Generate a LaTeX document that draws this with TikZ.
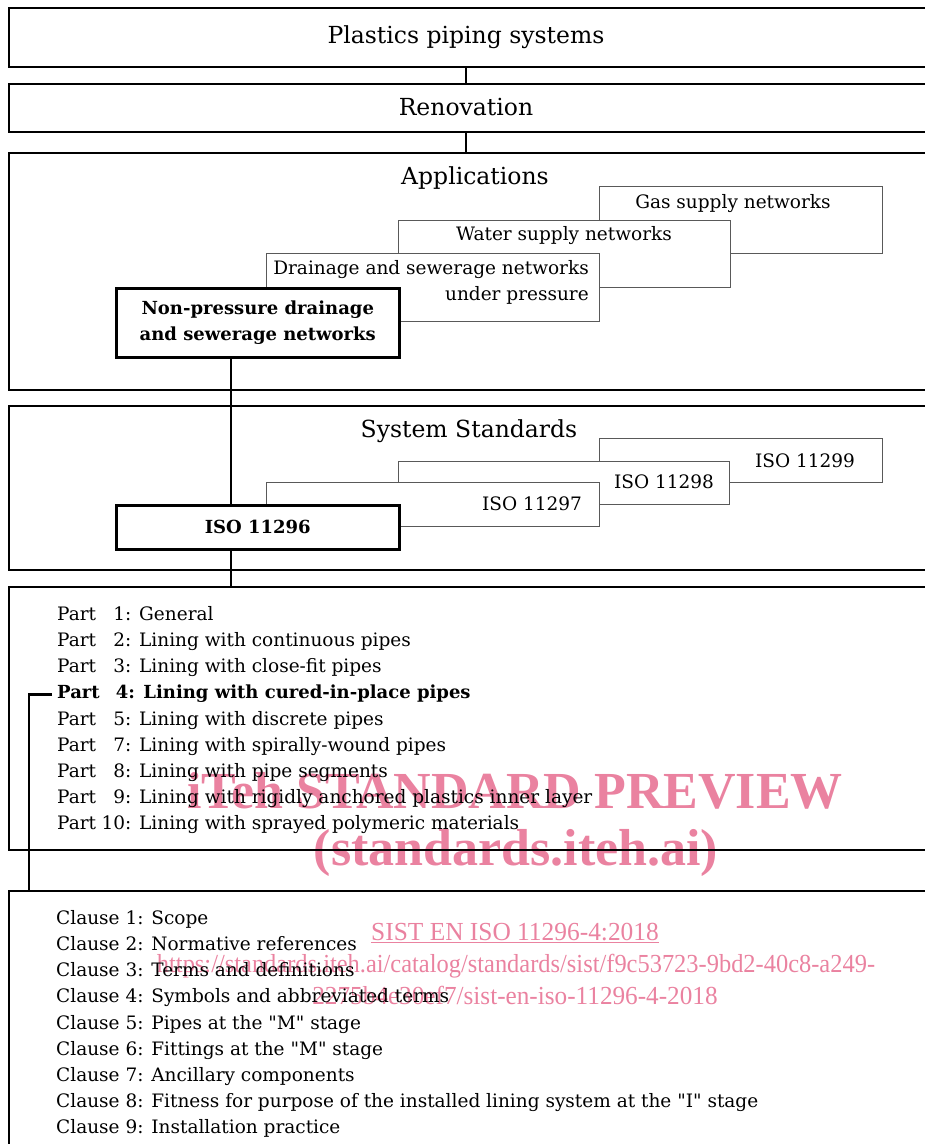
\documentclass[tikz,border=0pt]{standalone}
\usepackage{fontspec}
\usepackage{graphicx}
\usetikzlibrary{positioning}
\setmainfont{DejaVu Serif}[Ligatures=TeXOff]
\newfontfamily\wmfont{Liberation Serif}
\definecolor{wmpink}{RGB}{234,130,160}
\newcommand{\titlefont}{\fontsize{23.5}{28}\selectfont}
\newcommand{\listfont}{\fontsize{18.5}{26}\selectfont}
\newcommand{\keyfont}{\fontsize{18}{26}\selectfont\bfseries}
\newcommand{\partline}[2]{Part\ \makebox[1.25em][r]{#1}: #2}

\begin{document}
\begin{tikzpicture}[x=1pt, y=-1pt,
	bigbox/.style={draw, line width=2pt, anchor=north west, minimum width=925pt, inner sep=0},
	stackbox/.style={draw=black!65, line width=1.1pt, fill=white, anchor=north west, inner sep=0},
	keybox/.style={draw, line width=2.5pt, fill=white, anchor=north west, inner sep=0, align=center, font=\keyfont},
	title/.style={font=\titlefont, inner sep=0},
	boxtext/.style={font=\listfont, inner sep=0},
	listtext/.style={font=\listfont, anchor=west, inner sep=0, text height=14pt, text depth=5pt},
	link/.style={line width=1.2pt},
	trunk/.style={line width=2.2pt},
	watermark/.style={text=wmpink, inner sep=0}]
	\useasboundingbox (0,0) rectangle (925,1144);
	\clip (0,0) rectangle (925,1144);
	% watermark, under everything else
	\node[watermark, font=\wmfont\bfseries\fontsize{52}{60}\selectfont] (wmA) at (515,791) {iTeh STANDARD PREVIEW};
	\node[watermark, font=\wmfont\bfseries\fontsize{52}{60}\selectfont] (wmB) at (516,853) {(standards.iteh.ai)};
	\node[watermark, font=\wmfont\fontsize{26}{30}\selectfont] (wmC) at (515,933) {\scalebox{0.977}[1]{\underline{SIST EN ISO 11296-4:2018}}};
	\node[watermark, font=\wmfont\fontsize{26}{30}\selectfont] (wmD) at (516,966) {\scalebox{0.94}[1]{https://standards.iteh.ai/catalog/standards/sist/f9c53723-9bd2-40c8-a249-}};
	\node[watermark, font=\wmfont\fontsize{26}{30}\selectfont] (wmE) at (515,995) {\scalebox{0.97}[1]{2275b4e30ef7/sist-en-iso-11296-4-2018}};
	% frames
	\node[bigbox, minimum height=59pt] (pps) at (8,7) {};
	\node[bigbox, minimum height=48pt] (reno) at (8,83) {};
	\node[bigbox, minimum height=237pt] (apps) at (8,152) {};
	\node[bigbox, minimum height=164pt] (sys) at (8,405) {};
	\node[bigbox, minimum height=263pt] (parts) at (8,586) {};
	\node[bigbox, minimum height=280pt] (clauses) at (8,890) {};
	\node[title] (ppsT) at (466,37) {Plastics piping systems};
	\node[title] (renoT) at (466,107) {Renovation};
	\node[title] (appsT) at (475,178) {Applications};
	\node[title] (sysT) at (469,431) {System Standards};
	\coordinate (spine) at (466,0);
	\coordinate (trunk) at (231,0);
	\draw[link] (pps.south -| spine) -- (reno.north -| spine);
	\draw[link] (reno.south -| spine) -- (apps.north -| spine);
	% applications
	\node[stackbox, minimum width=283pt, minimum height=67pt] (gas) at (599,186) {};
	\node[boxtext] (gasT) at (733,204) {Gas supply networks};
	\node[stackbox, minimum width=332pt, minimum height=67pt] (water) at (398,220) {};
	\node[boxtext] (waterT) at (564,236) {Water supply networks};
	\node[stackbox, minimum width=332.5pt, minimum height=68pt] (drain) at (266,253) {};
	\node[boxtext, anchor=east, align=right] (drainT) at (589,282) {Drainage and sewerage networks\\under pressure};
	\node[keybox, minimum width=283pt, minimum height=69pt] (np) at (115,287) {Non-pressure drainage\\and sewerage networks};
	% system standards
	\node[stackbox, minimum width=283pt, minimum height=44pt] (iso99) at (599,438) {};
	\node[boxtext] (iso99T) at (805,461) {ISO 11299};
	\node[stackbox, minimum width=331pt, minimum height=43pt] (iso98) at (398,461) {};
	\node[boxtext] (iso98T) at (664,482) {ISO 11298};
	\node[stackbox, minimum width=332.5pt, minimum height=44pt] (iso97) at (266,482) {};
	\node[boxtext] (iso97T) at (532,504) {ISO 11297};
	\node[keybox, minimum width=283pt, minimum height=44pt] (iso96) at (115,504) {ISO 11296};
	\draw[trunk] (np.south -| trunk) -- (iso96.north -| trunk);
	\draw[trunk] (iso96.south -| trunk) -- (parts.north -| trunk);
	% parts
	\node[listtext] (p1) at (57,616) {\partline{1}{General}};
	\node[listtext, below=6.75pt of p1.south west, anchor=north west] (p2) {\partline{2}{Lining with continuous pipes}};
	\node[listtext, below=6.75pt of p2.south west, anchor=north west] (p3) {\partline{3}{Lining with close-fit pipes}};
	\node[listtext, below=6.75pt of p3.south west, anchor=north west, font=\keyfont] (p4) {\partline{4}{Lining with cured-in-place pipes}};
	\node[listtext, below=6.75pt of p4.south west, anchor=north west] (p5) {\partline{5}{Lining with discrete pipes}};
	\node[listtext, below=6.75pt of p5.south west, anchor=north west] (p7) {\partline{7}{Lining with spirally-wound pipes}};
	\node[listtext, below=6.75pt of p7.south west, anchor=north west] (p8) {\partline{8}{Lining with pipe segments}};
	\node[listtext, below=6.75pt of p8.south west, anchor=north west] (p9) {\partline{9}{Lining with rigidly anchored plastics inner layer}};
	\node[listtext, below=6.75pt of p9.south west, anchor=north west] (p10) {\partline{10}{Lining with sprayed polymeric materials}};
	% clauses of part 4
	\node[listtext] (c1) at (56,920) {Clause 1: Scope};
	\node[listtext, below=6.75pt of c1.south west, anchor=north west] (c2) {Clause 2: Normative references};
	\node[listtext, below=6.75pt of c2.south west, anchor=north west] (c3) {Clause 3: Terms and definitions};
	\node[listtext, below=6.75pt of c3.south west, anchor=north west] (c4) {Clause 4: Symbols and abbreviated terms};
	\node[listtext, below=6.75pt of c4.south west, anchor=north west] (c5) {Clause 5: Pipes at the "M" stage};
	\node[listtext, below=6.75pt of c5.south west, anchor=north west] (c6) {Clause 6: Fittings at the "M" stage};
	\node[listtext, below=6.75pt of c6.south west, anchor=north west] (c7) {Clause 7: Ancillary components};
	\node[listtext, below=6.75pt of c7.south west, anchor=north west] (c8) {Clause 8: Fitness for purpose of the installed lining system at the "I" stage};
	\node[listtext, below=6.75pt of c8.south west, anchor=north west] (c9) {Clause 9: Installation practice};
	\coordinate (bend) at ([xshift=-28pt]p4.west);
	\draw[trunk] ([xshift=-5pt]p4.west) -| (bend |- clauses.north);
\end{tikzpicture}
\end{document}
